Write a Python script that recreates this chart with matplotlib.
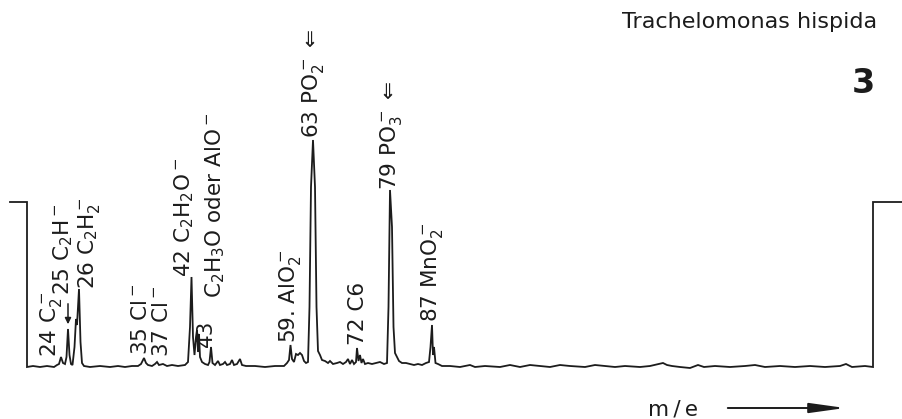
import matplotlib
matplotlib.use('Agg')
import matplotlib.pyplot as plt

# Trace: scan position (left to right) and signal above baseline
scan_pos = [10, 27, 27, 33, 40, 47, 54, 57,
            59, 61, 63, 65, 66.5, 68, 69.5, 71, 72.5, 74.5, 76, 77, 78, 79, 80.5, 82, 84,
            90, 100, 110, 118, 125, 132, 138,
            141, 144, 146, 148, 152,
            155, 157, 159, 163, 167, 172, 178, 185,
            188, 190, 191.5, 193, 194.5, 196, 197, 198, 199, 200, 202, 205, 208,
            209.5, 211, 212.5, 215, 218, 220, 223, 225, 227, 230, 232, 234, 237, 240, 242, 246,
            255, 265, 275, 284,
            287, 289, 290.5, 292, 294, 296, 298, 300, 302, 304, 306, 308,
            309.5, 311, 313, 315, 316.5, 318, 320, 322, 325, 328, 330, 333, 337, 340, 343, 346,
            348, 350, 352, 354, 356,
            357, 358.5, 360, 361.5, 363, 365, 368, 372, 376, 380, 384, 387,
            388.5, 390, 392, 393.5, 395, 397, 399, 402, 406, 410, 414, 418, 422, 426, 429,
            430.5, 432, 433, 434, 435.5, 438, 442,
            450, 460, 470, 475, 485, 500, 510, 520, 530, 540, 550, 560, 570, 585, 595, 605,
            615, 625, 640, 650, 663, 667, 672, 680, 690, 698, 704, 715, 730, 745, 755, 765,
            780, 795, 810, 825, 840, 846, 852, 865, 873,
            873, 902]
intensity = [165, 165, 0, 1, 0, 1, 0, 2,
             3, 10, 4, 3, 10, 38, 12, 3, 2, 20, 48, 42, 60, 78, 25, 4, 1,
             0, 1, 0, 1, 0, 1, 1,
             3, 9, 4, 2, 1,
             3, 5, 2, 3, 1, 2, 1, 2,
             5, 40, 90, 30, 12, 30, 37, 15, 33, 10, 5, 3, 2,
             5, 20, 4, 2, 6, 2, 3, 5, 2, 3, 7, 2, 3, 8, 2, 1,
             1, 0, 1, 1,
             4, 7, 22, 8, 5, 13, 12, 14, 12, 6, 4, 5,
             60, 180, 227, 180, 60, 16, 12, 7, 6, 4, 6, 3, 4, 5, 3, 5,
             8, 3, 7, 3, 5,
             19, 6, 12, 4, 8, 3, 4, 3, 4, 5, 3, 4,
             60, 177, 140, 40, 14, 10, 6, 4, 4, 3, 2, 3, 2, 4, 5,
             20, 42, 12, 20, 4, 3, 1,
             1, 0, 2, 0, 1, 0, 2, 0, 2, 1, 0, 2, 1, 0, 2, 1,
             0, 1, 0, 1, 4, 2, 1, 0, -1, 2, 0, 1, 0, 1, 2, 0,
             1, 0, 1, 0, 1, 3, 0, 1, 0,
             165, 165]

# Peak labels (ion assignments)
labels = [r'24 C$_2^-$', r'25 C$_2$H$^-$', r'26 C$_2$H$_2^-$', r'35 Cl$^-$', r'37 Cl$^-$',
          r'42 C$_2$H$_2$O$^-$', '43', r'C$_2$H$_3$O oder AlO$^-$', r'59. AlO$_2^-$',
          r'63 PO$_2^-$ ⇐', '72 C6', r'79 PO$_3^-$ ⇐', r'87 MnO$_2^-$']
label_x = [51, 63, 89, 141, 162, 184, 206, 215, 290, 313, 358, 391, 432]
label_y = [10, 72, 78, 12, 10, 90, 20, 69, 24, 229, 22, 177, 45]

ink = '#1c1c1c'

fig = plt.figure(figsize=(9.02, 4.19), dpi=100)
ax = fig.add_axes([0, 0, 1, 1])
ax.set_xlim(0, 902)
ax.set_ylim(-52, 367)
ax.axis('off')

ax.plot(scan_pos, intensity, color=ink, lw=1.3, solid_joinstyle='miter')

for txt, x, y in zip(labels, label_x, label_y):
    ax.text(x, y, txt, rotation=90, ha='center', va='bottom', fontsize=15.5, color=ink)

# small arrow pointing at the 25 peak
ax.annotate('', xy=(68, 40), xytext=(68, 66),
            arrowprops=dict(arrowstyle='-|>', color=ink, lw=1.1, mutation_scale=9))

fig.text(0.972, 0.947, 'Trachelomonas hispida', ha='right', va='center',
         fontsize=16, color=ink)
fig.text(0.957, 0.80, '3', ha='center', va='center', fontsize=24,
         fontweight='bold', color=ink)
ax.text(673, -42, 'm\u2009/\u2009e', ha='center', va='center', fontsize=15.5, color=ink)
ax.annotate('', xy=(848, -41), xytext=(725, -41),
            arrowprops=dict(arrowstyle='-|>,head_length=1.8,head_width=0.25',
                            color=ink, lw=1.4, mutation_scale=12))

fig.savefig('out.png', dpi=100, facecolor='white')
